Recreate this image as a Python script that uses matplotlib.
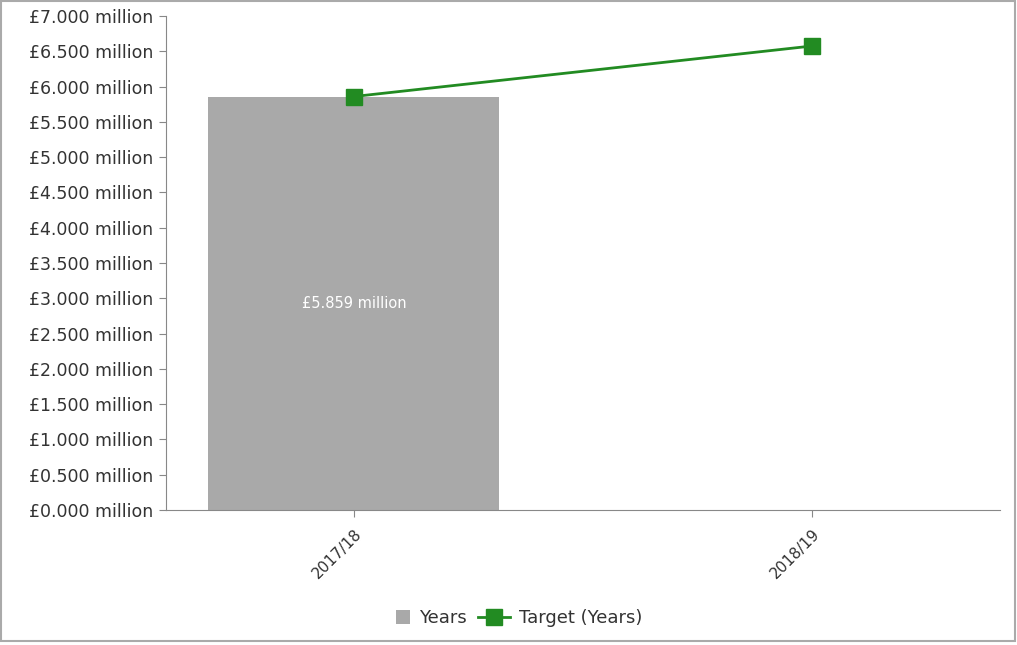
import matplotlib
matplotlib.use("Agg")
import matplotlib.pyplot as plt
from matplotlib.ticker import FuncFormatter, MultipleLocator
from matplotlib.patches import Rectangle
from matplotlib.legend_handler import HandlerPatch

categories = ["2017/18", "2018/19"]
actual_values = [5.859]          # £ million, Years
target_values = [5.859, 6.575]   # £ million, Target (Years)

plt.rcParams["font.family"] = ["DejaVu Sans"]

fig = plt.figure(figsize=(10.17, 6.45), dpi=100)
ax = fig.add_axes([166 / 1017, 1 - 510 / 645, (1000 - 166) / 1017, (510 - 16) / 645])

x = list(range(len(categories)))
bar_color = "#a9a9a9"
line_color = "#228b22"
text_color = "#333333"
axis_color = "#888888"

bars = ax.bar(x[:len(actual_values)], actual_values, width=0.635, color=bar_color,
              label="Years", zorder=2)
for b, v in zip(bars, actual_values):
    ax.text(b.get_x() + b.get_width() / 2, v / 2, f"£{v:.3f} million",
            ha="center", va="center", color="white", fontsize=10.5, zorder=3)

line, = ax.plot(x, target_values, color=line_color, lw=2, marker="s", markersize=11,
                markeredgecolor=line_color, label="Target (Years)", zorder=4)

ax.set_xlim(-0.41, 1.41)
ax.set_ylim(0, 7)
ax.yaxis.set_major_locator(MultipleLocator(0.5))
ax.yaxis.set_major_formatter(FuncFormatter(lambda v, p: f"£{v:.3f} million"))

ax.set_xticks(x)
ax.set_xticklabels(categories, rotation=45, ha="right", rotation_mode="anchor",
                   fontsize=11)
ax.tick_params(axis="y", labelsize=12.5, colors=axis_color, labelcolor=text_color,
               length=5, pad=4)
ax.tick_params(axis="x", colors=axis_color, labelcolor=text_color, length=5, pad=7)

for side in ("top", "right"):
    ax.spines[side].set_visible(False)
for side in ("left", "bottom"):
    ax.spines[side].set_color(axis_color)


class SquareHandler(HandlerPatch):
    def create_artists(self, legend, orig_handle, xdescent, ydescent, width,
                       height, fontsize, trans):
        s = height * 1.1
        r = Rectangle((width - s - xdescent, (height - s) / 2 - ydescent), s, s,
                      facecolor=orig_handle.get_facecolor(), edgecolor="none",
                      transform=trans)
        return [r]


leg = fig.legend([bars[0], line], ["Years", "Target (Years)"],
                 loc="center", bbox_to_anchor=(510 / 1017, 1 - 618 / 645), ncol=2,
                 frameon=False, fontsize=13, handlelength=1.8, handletextpad=0.5,
                 columnspacing=0.6, handler_map={Rectangle: SquareHandler()})
for t in leg.get_texts():
    t.set_color(text_color)

fig.patches.append(Rectangle((1 / 1017, 4 / 645), 1014 / 1017, 640 / 645,
                             transform=fig.transFigure, fill=False,
                             edgecolor="#aaaaaa", lw=1.5))

fig.savefig("out.png", dpi=100, facecolor="white")
